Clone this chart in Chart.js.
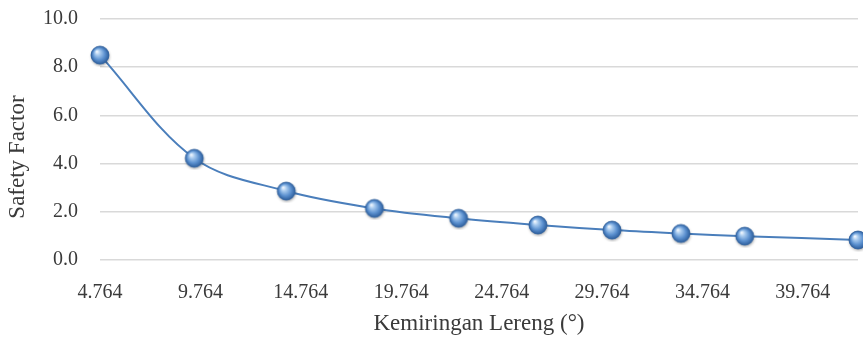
<!DOCTYPE html>
<html>
<head>
<meta charset="utf-8">
<script src="https://cdn.jsdelivr.net/npm/chart.js@4"></script>
<style>
  html, body { margin: 0; padding: 0; background: #ffffff; }
  #wrap { width: 863px; height: 340px; }
</style>
</head>
<body>
<div id="wrap"><canvas id="chart" width="863" height="340"></canvas></div>
<script>
// Slope angle (degrees) and the resulting safety factor
const slopeAngles = [4.764, 9.46, 14.04, 18.43, 22.62, 26.57, 30.26, 33.69, 36.87, 42.51];
const safetyFactors = [8.5, 4.22, 2.86, 2.14, 1.73, 1.45, 1.24, 1.10, 0.99, 0.83];

// Axis tick values
const xTicks = [4.764, 9.764, 14.764, 19.764, 24.764, 29.764, 34.764, 39.764];
const yTicks = [0, 2, 4, 6, 8, 10];

const xTitle = 'Kemiringan Lereng (°)';
const yTitle = 'Safety Factor';

const FONT = '"Liberation Serif", "DejaVu Serif", serif';
const TEXT = '#3a3a3a';

// Glossy sphere used as the point marker
function makeSphere(r) {
  const pad = 3;
  const size = (r + pad) * 2;
  const c = document.createElement('canvas');
  c.width = size; c.height = size;
  const g = c.getContext('2d');
  const cx = size / 2, cy = size / 2;
  // soft drop shadow
  g.save();
  g.shadowColor = 'rgba(0,0,0,0.35)';
  g.shadowBlur = 3;
  g.shadowOffsetX = 0.5;
  g.shadowOffsetY = 1.5;
  g.beginPath(); g.arc(cx, cy, r, 0, Math.PI * 2);
  g.fillStyle = '#3f72b0'; g.fill();
  g.restore();
  // body shading
  const grad = g.createRadialGradient(cx - r * 0.35, cy - r * 0.4, 0.5, cx, cy, r);
  grad.addColorStop(0, '#eef5fd');
  grad.addColorStop(0.25, '#a9cbef');
  grad.addColorStop(0.65, '#5b90cf');
  grad.addColorStop(1, '#2d5e9c');
  g.beginPath(); g.arc(cx, cy, r, 0, Math.PI * 2);
  g.fillStyle = grad; g.fill();
  g.lineWidth = 0.8; g.strokeStyle = '#35649f'; g.stroke();
  return c;
}
const sphere = makeSphere(9);

// Vertical axis title, centred on the full left block
const yTitlePlugin = {
  id: 'yTitle',
  afterDraw(chart) {
    const ctx = chart.ctx;
    ctx.save();
    ctx.translate(18, 157);
    ctx.rotate(-Math.PI / 2);
    ctx.font = '23px ' + FONT;
    ctx.fillStyle = TEXT;
    ctx.textAlign = 'center';
    ctx.textBaseline = 'middle';
    ctx.fillText(yTitle, 0, 0);
    ctx.restore();
  }
};

new Chart(document.getElementById('chart'), {
  type: 'scatter',
  data: {
    datasets: [{
      data: slopeAngles.map((x, i) => ({ x: x, y: safetyFactors[i] })),
      showLine: true,
      borderColor: '#4a7ebb',
      borderWidth: 2,
      tension: 0.35,
      pointStyle: sphere,
      pointRadius: 9,
      pointHoverRadius: 9,
      clip: false
    }]
  },
  options: {
    responsive: false,
    animation: false,
    layout: { autoPadding: false, padding: { top: 19, right: 5, bottom: 0, left: 0 } },
    plugins: { legend: { display: false }, tooltip: { enabled: false } },
    scales: {
      x: {
        type: 'linear',
        min: slopeAngles[0],
        max: slopeAngles[slopeAngles.length - 1],
        afterBuildTicks(scale) { scale.ticks = xTicks.map(v => ({ value: v })); },
        afterFit(scale) {
          scale.height = 80;
          scale.paddingLeft = 0; scale.paddingRight = 0;
        },
        grid: { display: false, drawTicks: false },
        border: { display: false },
        ticks: {
          padding: 21,
          color: TEXT,
          font: { family: FONT, size: 20 },
          maxRotation: 0,
          callback: v => Number(v).toFixed(3)
        },
        title: {
          display: true,
          text: xTitle,
          color: TEXT,
          font: { family: FONT, size: 23 },
          padding: { top: 0, bottom: 2 }
        }
      },
      y: {
        min: 0,
        max: 10,
        afterBuildTicks(scale) { scale.ticks = yTicks.map(v => ({ value: v })); },
        afterFit(scale) {
          scale.width = 100;
          scale.paddingTop = 0; scale.paddingBottom = 0;
        },
        grid: { color: '#d9d9d9', lineWidth: 1.5, drawTicks: false },
        border: { display: false },
        ticks: {
          padding: 22,
          color: TEXT,
          font: { family: FONT, size: 20 },
          callback: v => Number(v).toFixed(1)
        }
      }
    }
  },
  plugins: [yTitlePlugin]
});
</script>
</body>
</html>
